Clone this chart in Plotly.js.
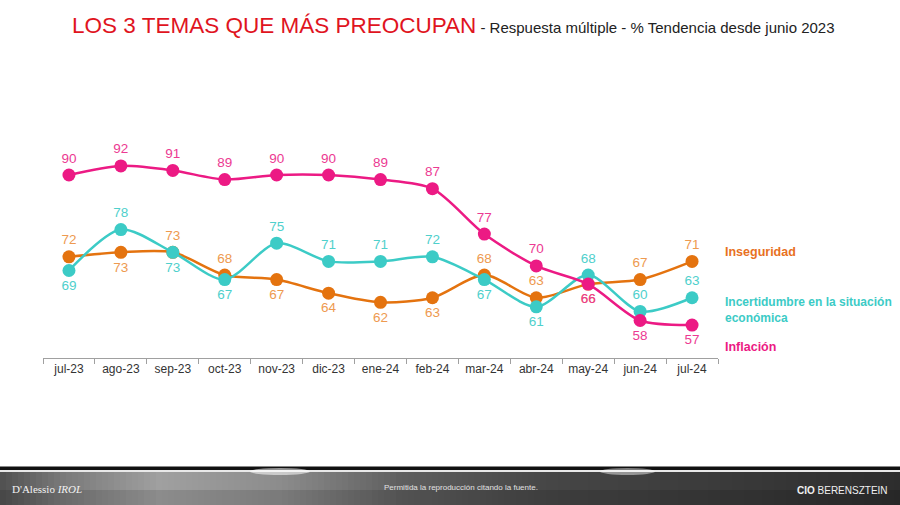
<!DOCTYPE html>
<html><head><meta charset="utf-8">
<script src="https://cdn.plot.ly/plotly-3.0.1.min.js"></script>
<style>html,body{margin:0;padding:0;background:#fff}#chart{width:900px;height:505px}</style>
</head><body><div id="chart"></div>
<script>
const months = ["jul-23","ago-23","sep-23","oct-23","nov-23","dic-23","ene-24","feb-24","mar-24","abr-24","may-24","jun-24","jul-24"];
const inseguridad = [72,73,73,68,67,64,62,63,68,63,66,67,71];
const incertidumbre = [69,78,73,67,75,71,71,72,67,61,68,60,63];
const inflacion = [90,92,91,89,90,90,89,87,77,70,66,58,57];

const T='top center', B='bottom center';
const posInseg = [T,B,T,T,B,B,B,B,T,T,B,T,T];
const posIncert = [B,T,B,B,T,T,T,T,B,B,T,T,T];
const posInfl = [T,T,T,T,T,T,T,T,T,T,B,B,B];

const font = "Liberation Sans, Arial, sans-serif";
function tr(y, color, tcolor, pos){
  return {x: months, y: y, type:'scatter', mode:'lines+markers+text',
    line:{color:color, width:2.5, shape:'spline', smoothing:0.8},
    marker:{color:color, size:13},
    text: y.map(String), textposition: pos,
    textfont:{family:font, size:13.5, color:tcolor},
    hoverinfo:'skip', cliponaxis:false};
}
const data = [
  tr(inseguridad,'#e4730f','#ee9a50',posInseg),
  tr(incertidumbre,'#3ccbc6','#4fd0cc',posIncert),
  tr(inflacion,'#ec1a84','#ec3a92',posInfl)
];
const PW = 675, PH = 258;
const px = v => (v-43)/PW;
const py = v => (358-v)/PH;

// footer decoration (horizontal grey gradient)
const stops = [[0,80],[60,120],[160,160],[280,140],[400,95],[550,70],[700,60],[900,45]];
function grey(x){
  for(let i=0;i<stops.length-1;i++){
    const a=stops[i], b=stops[i+1];
    if(x>=a[0] && x<=b[0]){ const t=(x-a[0])/(b[0]-a[0]); const g=Math.round(a[1]+t*(b[1]-a[1])); return 'rgb('+g+','+g+','+g+')'; }
  }
  return 'rgb(45,45,45)';
}
const shapes = [];
for(let x=0;x<900;x+=6){
  shapes.push({type:'rect', xref:'paper', yref:'paper', x0:px(x), x1:px(x+6.5), y0:py(505), y1:py(472), fillcolor:grey(x+3), line:{width:0}, layer:'below'});
}
shapes.push({type:'rect', xref:'paper', yref:'paper', x0:px(0), x1:px(900), y0:py(505), y1:py(490), fillcolor:'rgba(0,0,0,0.12)', line:{width:0}, layer:'below'});
shapes.push({type:'rect', xref:'paper', yref:'paper', x0:px(0), x1:px(900), y0:py(470), y1:py(466.5), fillcolor:'#111', line:{width:0}, layer:'below'});
shapes.push({type:'rect', xref:'paper', yref:'paper', x0:px(0), x1:px(900), y0:py(472), y1:py(470), fillcolor:'#e8e8e8', line:{width:0}, layer:'below'});
shapes.push({type:'circle', xref:'paper', yref:'paper', x0:px(250), x1:px(310), y0:py(475), y1:py(468), fillcolor:'rgba(255,255,255,0.55)', line:{width:0}, layer:'below'});
shapes.push({type:'circle', xref:'paper', yref:'paper', x0:px(600), x1:px(655), y0:py(475), y1:py(468), fillcolor:'rgba(255,255,255,0.45)', line:{width:0}, layer:'below'});

const layout = {
  width:900, height:505,
  margin:{l:43, r:182, t:100, b:147},
  paper_bgcolor:'#fff', plot_bgcolor:'#fff',
  showlegend:false,
  font:{family:font},
  title:{text:'<span style="color:#e0141e;font-size:22.5px">LOS 3 TEMAS QUE MÁS PREOCUPAN</span><span style="color:#222;font-size:15px"> - Respuesta múltiple - % Tendencia desde junio 2023</span>',
    x:72/900, xanchor:'left', xref:'container', y:1-27/505, yanchor:'middle', yref:'container'},
  xaxis:{type:'category', range:[-0.5,12.5], showgrid:false, zeroline:false,
    showline:true, linecolor:'#a0a0a0', linewidth:1,
    ticks:'outside', tickson:'boundaries', ticklen:5, tickcolor:'#a0a0a0',
    tickfont:{family:font, size:12, color:'#333'}, fixedrange:true},
  yaxis:{range:[49.75,106.5], visible:false, fixedrange:true},
  annotations:[
    {text:'<b>Inseguridad</b>', x:px(723), xref:'paper', xanchor:'left', y:73, yref:'y', showarrow:false, font:{family:font,size:12.5,color:'#e8711f'}},
    {text:'<b>Incertidumbre en la situación<br>económica</b>', x:px(723), xref:'paper', xanchor:'left', align:'left', y:60.3, yref:'y', showarrow:false, font:{family:font,size:12,color:'#3ccbc6'}},
    {text:'<b>Inflación</b>', x:px(723), xref:'paper', xanchor:'left', y:52.2, yref:'y', showarrow:false, font:{family:font,size:12.5,color:'#ec1a84'}},
    {text:"D'Alessio <i>IROL</i>", x:px(10), xref:'paper', xanchor:'left', y:py(489), yref:'paper', yanchor:'middle', showarrow:false, font:{family:'Liberation Serif, serif', size:11, color:'#f2f2f2'}},
    {text:'Permitida la reproducción citando la fuente.', x:px(461), xref:'paper', xanchor:'center', y:py(487), yref:'paper', yanchor:'middle', showarrow:false, font:{family:font, size:8, color:'#e0e0e0'}},
    {text:'<b>CIO</b> BERENSZTEIN', x:px(890), xref:'paper', xanchor:'right', y:py(490), yref:'paper', yanchor:'middle', showarrow:false, font:{family:font, size:10, color:'#f0f0f0'}}
  ],
  shapes: shapes
};
Plotly.newPlot('chart', data, layout, {displayModeBar:false, staticPlot:true});
</script></body></html>
